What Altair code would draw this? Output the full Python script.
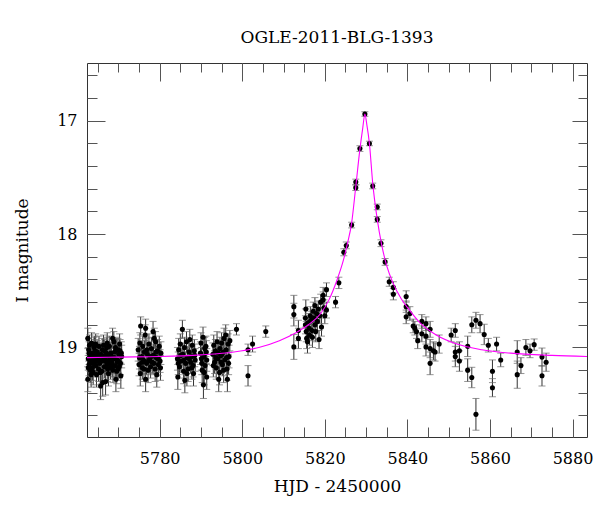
import altair as alt
import pandas as pd

TITLE = "OGLE-2011-BLG-1393"
X_TITLE = "HJD - 2450000"
Y_TITLE = "I magnitude"

x_major = [5780, 5800, 5820, 5840, 5860, 5880]
x_minor = [5765, 5770, 5775, 5780, 5785, 5790, 5795, 5800, 5805, 5810, 5815, 5820,
           5825, 5830, 5835, 5840, 5845, 5850, 5855, 5860, 5865, 5870, 5875, 5880]
y_major = [17, 18, 19]
y_minor = [16.6, 16.8, 17.0, 17.2, 17.4, 17.6, 17.8, 18.0, 18.2, 18.4, 18.6, 18.8,
           19.0, 19.2, 19.4, 19.6]
X_DOMAIN = [5762.4, 5883.5]
Y_DOMAIN = [16.49, 19.79]

# observations: (HJD-2450000, I mag, error)
base_a = [
    (5762.6, 18.92, 0.09), (5762.6, 19.28, 0.11), (5762.7, 19.10, 0.10), (5762.8, 19.02, 0.10),
    (5762.9, 19.15, 0.10), (5762.9, 19.05, 0.10), (5763.0, 18.98, 0.09), (5763.2, 19.20, 0.11),
    (5763.3, 19.07, 0.10), (5763.4, 19.12, 0.10), (5763.5, 18.96, 0.09), (5763.6, 19.09, 0.10),
    (5763.7, 19.18, 0.11), (5763.8, 19.05, 0.10), (5763.9, 19.22, 0.11), (5764.1, 19.00, 0.09),
    (5764.2, 19.13, 0.10), (5764.3, 19.09, 0.10), (5764.4, 19.03, 0.10), (5764.5, 18.97, 0.09),
    (5764.6, 19.16, 0.10), (5764.7, 19.24, 0.11), (5764.9, 19.04, 0.10), (5765.0, 19.11, 0.10),
    (5765.1, 19.07, 0.10), (5765.2, 19.19, 0.11), (5765.3, 18.99, 0.09), (5765.5, 19.14, 0.10),
    (5765.7, 19.34, 0.12), (5765.8, 19.06, 0.10), (5765.9, 19.12, 0.10), (5766.0, 19.21, 0.11),
    (5766.2, 19.31, 0.12), (5766.3, 19.08, 0.10), (5766.4, 18.98, 0.09), (5766.5, 19.10, 0.10),
    (5766.6, 19.17, 0.10), (5766.7, 19.03, 0.10), (5766.9, 19.30, 0.12), (5767.0, 19.12, 0.10),
    (5767.1, 19.05, 0.10), (5767.2, 19.00, 0.09), (5767.3, 19.15, 0.10), (5767.5, 19.07, 0.10),
    (5767.6, 19.23, 0.11), (5767.7, 19.14, 0.10), (5767.8, 18.99, 0.09), (5767.9, 19.10, 0.10),
    (5768.1, 19.18, 0.10), (5768.2, 19.05, 0.10), (5768.3, 19.08, 0.10), (5768.4, 19.13, 0.10),
    (5768.6, 18.92, 0.09), (5768.7, 19.20, 0.11), (5768.9, 18.95, 0.09), (5769.0, 19.09, 0.10),
    (5769.1, 19.04, 0.10), (5769.2, 19.16, 0.10), (5769.4, 19.28, 0.11), (5769.5, 19.02, 0.10),
    (5769.7, 19.11, 0.10), (5769.8, 19.13, 0.10), (5769.9, 19.19, 0.10), (5770.1, 19.06, 0.10),
    (5770.3, 18.97, 0.09), (5770.4, 19.03, 0.10), (5770.5, 19.14, 0.10), (5770.6, 19.25, 0.11),
    (5770.8, 19.08, 0.10), (5762.7, 19.18, 0.11), (5763.1, 19.11, 0.10), (5763.4, 19.24, 0.11),
    (5763.9, 19.14, 0.10), (5764.2, 18.99, 0.09), (5764.8, 19.12, 0.10), (5765.4, 19.08, 0.10),
    (5765.6, 19.22, 0.11), (5766.1, 19.02, 0.10), (5766.8, 19.12, 0.10), (5767.4, 19.19, 0.11),
    (5768.0, 19.06, 0.10), (5768.5, 19.16, 0.10), (5768.8, 19.10, 0.10), (5769.3, 19.00, 0.09),
    (5769.6, 19.21, 0.11), (5770.0, 19.12, 0.10), (5770.2, 19.17, 0.10), (5770.7, 19.05, 0.10),
    (5763.5, 19.13, 0.10), (5764.0, 19.07, 0.10), (5766.9, 19.08, 0.10), (5767.3, 18.96, 0.09),
    (5769.9, 19.02, 0.10),
]
base_b = [
    (5774.8, 19.02, 0.10), (5775.0, 19.15, 0.10), (5775.2, 18.96, 0.09), (5775.3, 19.23, 0.11),
    (5775.4, 18.81, 0.08), (5775.6, 19.08, 0.10), (5775.8, 19.18, 0.10), (5775.9, 18.99, 0.09),
    (5776.1, 19.11, 0.10), (5776.3, 19.04, 0.10), (5776.5, 18.89, 0.09), (5776.6, 18.83, 0.08),
    (5776.6, 19.28, 0.11), (5776.8, 19.14, 0.10), (5777.0, 19.06, 0.10), (5777.2, 19.20, 0.11),
    (5777.4, 18.97, 0.09), (5777.6, 19.10, 0.10), (5777.8, 19.17, 0.10), (5778.0, 19.01, 0.10),
    (5778.2, 19.13, 0.10), (5778.4, 18.86, 0.09), (5778.5, 19.07, 0.10), (5778.7, 18.92, 0.09),
    (5778.9, 19.19, 0.11), (5779.0, 18.95, 0.09), (5779.2, 19.09, 0.10), (5779.3, 19.24, 0.11),
    (5779.5, 19.03, 0.10), (5779.7, 19.15, 0.10), (5779.9, 18.99, 0.09), (5780.1, 19.12, 0.10),
    (5780.3, 19.05, 0.10), (5775.1, 19.09, 0.10), (5775.7, 19.13, 0.10), (5776.2, 19.19, 0.11),
    (5776.9, 19.02, 0.10), (5777.3, 19.12, 0.10), (5777.9, 19.08, 0.10), (5778.6, 19.14, 0.10),
    (5779.1, 19.04, 0.10), (5779.6, 19.10, 0.10), (5780.2, 19.18, 0.11),
]
base_c = [
    (5784.3, 19.10, 0.10), (5784.4, 19.26, 0.11), (5784.6, 19.02, 0.10), (5784.8, 19.17, 0.10),
    (5785.0, 18.97, 0.09), (5785.2, 19.12, 0.10), (5785.5, 18.84, 0.08), (5785.6, 19.06, 0.10),
    (5785.8, 19.21, 0.11), (5786.0, 19.00, 0.09), (5786.1, 19.29, 0.11), (5786.3, 19.14, 0.10),
    (5786.5, 18.95, 0.09), (5786.7, 19.09, 0.10), (5786.9, 19.19, 0.11), (5787.1, 19.04, 0.10),
    (5787.3, 18.93, 0.09), (5787.5, 19.13, 0.10), (5787.7, 19.08, 0.10), (5787.9, 18.98, 0.09),
    (5788.1, 19.16, 0.10), (5788.2, 19.23, 0.11), (5788.4, 19.03, 0.10), (5788.6, 19.11, 0.10),
    (5789.9, 19.05, 0.10), (5790.0, 18.96, 0.09), (5790.2, 19.14, 0.10), (5790.3, 19.20, 0.11),
    (5790.5, 18.91, 0.09), (5790.6, 19.33, 0.12), (5790.7, 19.08, 0.10), (5790.9, 19.01, 0.10),
    (5791.0, 19.16, 0.10), (5791.2, 18.99, 0.09), (5791.4, 19.26, 0.11), (5791.4, 19.11, 0.10),
    (5784.5, 19.14, 0.10), (5785.1, 19.07, 0.10), (5785.9, 19.11, 0.10), (5786.6, 19.23, 0.11),
    (5787.2, 19.10, 0.10), (5787.8, 19.18, 0.10), (5788.5, 19.07, 0.10), (5790.1, 19.10, 0.10),
    (5790.8, 19.22, 0.11), (5791.3, 19.04, 0.10),
]
base_d = [
    (5792.9, 19.06, 0.10), (5793.1, 18.98, 0.09), (5793.3, 19.13, 0.10), (5793.5, 19.03, 0.10),
    (5793.7, 19.18, 0.10), (5793.9, 18.95, 0.09), (5794.1, 19.10, 0.10), (5794.3, 19.28, 0.11),
    (5794.5, 19.22, 0.11), (5794.6, 19.01, 0.10), (5794.8, 19.07, 0.10), (5795.0, 18.96, 0.09),
    (5795.2, 19.15, 0.10), (5795.4, 19.04, 0.10), (5795.6, 18.92, 0.09), (5795.8, 19.11, 0.10),
    (5796.0, 18.89, 0.09), (5796.1, 19.02, 0.10), (5796.3, 19.19, 0.10), (5796.4, 19.28, 0.11),
    (5796.6, 18.97, 0.09), (5796.8, 19.08, 0.10), (5797.0, 18.94, 0.09),
    (5793.0, 19.16, 0.10), (5793.6, 19.09, 0.10), (5794.2, 19.05, 0.10), (5794.9, 19.13, 0.10),
    (5795.5, 19.20, 0.11), (5796.2, 19.09, 0.10), (5796.7, 19.14, 0.10), (5795.1, 19.06, 0.10),
    (5798.6, 18.84, 0.05), (5801.4, 19.02, 0.05), (5801.4, 19.25, 0.09), (5802.5, 18.97, 0.07),
    (5805.7, 18.86, 0.05),
]
rise = [
    (5812.5, 18.64, 0.10), (5812.5, 18.71, 0.10), (5812.5, 18.995, 0.11), (5813.6, 18.85, 0.09),
    (5813.6, 18.92, 0.09), (5815.4, 18.66, 0.08), (5815.3, 18.74, 0.08), (5815.3, 18.80, 0.08),
    (5815.5, 18.86, 0.09), (5815.6, 18.92, 0.09), (5815.8, 18.95, 0.10), (5816.0, 18.78, 0.08),
    (5816.2, 18.83, 0.09), (5816.3, 18.89, 0.09), (5816.5, 18.72, 0.08), (5816.7, 18.76, 0.08),
    (5816.9, 18.85, 0.09), (5817.0, 18.91, 0.09), (5817.2, 18.68, 0.08), (5817.4, 18.74, 0.08),
    (5817.6, 18.63, 0.07), (5817.6, 18.80, 0.08), (5817.8, 18.86, 0.09), (5818.0, 18.70, 0.08),
    (5818.2, 18.77, 0.08), (5818.4, 18.66, 0.07), (5818.6, 18.93, 0.08), (5818.8, 18.72, 0.07),
    (5819.0, 18.60, 0.07), (5819.2, 18.82, 0.08), (5819.6, 18.54, 0.07), (5819.6, 18.58, 0.07),
    (5819.8, 18.65, 0.07), (5820.0, 18.72, 0.07), (5820.4, 18.49, 0.06), (5820.4, 18.67, 0.07),
    (5822.6, 18.60, 0.05), (5823.4, 18.43, 0.05),
]
peak = [
    (5824.6, 18.16, 0.03), (5825.2, 18.10, 0.03), (5826.5, 17.92, 0.025), (5827.5, 17.54, 0.025),
    (5827.5, 17.59, 0.025), (5828.5, 17.245, 0.025), (5829.7, 16.94, 0.02), (5830.8, 17.20, 0.02),
    (5831.6, 17.575, 0.025), (5832.7, 17.76, 0.025), (5832.7, 17.87, 0.025), (5833.6, 18.08, 0.03),
    (5834.6, 18.245, 0.03),
]
decline = [
    (5835.6, 18.42, 0.04), (5836.6, 18.47, 0.05), (5836.6, 18.53, 0.05), (5839.7, 18.55, 0.05),
    (5839.7, 18.64, 0.05), (5840.6, 18.70, 0.06), (5839.7, 18.73, 0.06), (5841.4, 18.81, 0.06),
    (5841.8, 18.83, 0.06), (5842.2, 18.86, 0.06), (5842.5, 18.94, 0.07), (5843.5, 18.77, 0.06),
    (5843.5, 18.88, 0.07), (5844.5, 18.79, 0.06), (5844.5, 18.90, 0.07), (5844.5, 18.995, 0.08),
    (5845.5, 18.84, 0.07), (5845.5, 19.01, 0.08), (5845.5, 19.14, 0.10), (5846.3, 19.03, 0.08),
    (5846.7, 19.04, 0.08), (5847.7, 18.97, 0.08), (5850.6, 18.89, 0.06), (5851.6, 18.85, 0.06),
    (5851.6, 19.04, 0.08), (5851.6, 19.08, 0.09), (5852.6, 19.03, 0.08), (5852.6, 19.12, 0.09),
]
tail = [
    (5854.6, 18.99, 0.09), (5854.6, 19.20, 0.10), (5855.6, 19.265, 0.09), (5855.6, 18.80, 0.07),
    (5856.6, 18.76, 0.07), (5857.6, 18.79, 0.08), (5858.6, 18.885, 0.09), (5859.6, 18.98, 0.06),
    (5861.6, 18.97, 0.06), (5862.6, 19.11, 0.06), (5860.6, 19.21, 0.10), (5860.6, 19.355, 0.08),
    (5856.6, 19.59, 0.14), (5866.6, 19.04, 0.10), (5866.6, 19.24, 0.12), (5867.5, 19.16, 0.07),
    (5868.7, 19.00, 0.07), (5869.7, 19.03, 0.06), (5870.7, 18.975, 0.05), (5872.6, 19.085, 0.08),
    (5872.6, 19.25, 0.09), (5873.6, 19.13, 0.08),
]

# fitted model curve
model_t = [5762.4, 5770, 5780, 5790, 5798, 5804, 5809, 5813, 5816, 5819, 5821, 5823,
           5824.5, 5825.5, 5826.5, 5827.5, 5828.5, 5829.2, 5829.7, 5830.2, 5830.8, 5831.6,
           5832.7, 5833.8, 5835.0, 5836.5, 5838.5, 5840.5, 5843.0, 5847.0, 5852.0, 5858.0,
           5865.0, 5875.0, 5883.5]
model_m = [19.09, 19.085, 19.08, 19.065, 19.04, 19.00, 18.94, 18.87, 18.80, 18.70, 18.58, 18.40,
           18.23, 18.08, 17.90, 17.58, 17.25, 17.06, 16.94, 17.04, 17.20, 17.55,
           17.87, 18.10, 18.28, 18.43, 18.57, 18.67, 18.78, 18.89, 18.97, 19.02,
           19.05, 19.07, 19.08]

obs = pd.DataFrame(base_a + base_b + base_c + base_d + rise + peak + decline + tail,
                   columns=["t", "m", "e"])
model = pd.DataFrame({"t": model_t, "m": model_m})

FONT = "DejaVu Serif"
TICK = "#555555"
ERR = "#333333"
CAP = "#666666"

xs = alt.Scale(domain=X_DOMAIN, nice=False, zero=False)
ys = alt.Scale(domain=Y_DOMAIN, nice=False, zero=False, reverse=True)

x_axis_main = alt.Axis(
    orient="bottom", values=x_major, format="d", ticks=False, domain=False, grid=False,
    labelFont=FONT, labelFontSize=16, labelColor="black", labelPadding=26,
    labelBaseline="alphabetic", labelFlush=False, labelOverlap=False,
    title=X_TITLE, titleFont=FONT, titleFontSize=17, titleFontWeight="normal",
    titleColor="black", titleX=250, titleY=54, titleBaseline="alphabetic", titleAlign="center",
)
y_axis_main = alt.Axis(
    orient="left", values=y_major, format="d", ticks=False, domain=False, grid=False,
    labelFont=FONT, labelFontSize=16, labelColor="black", labelPadding=10,
    labelFlush=False, labelOverlap=False,
    title=Y_TITLE, titleFont=FONT, titleFontSize=17, titleFontWeight="normal",
    titleColor="black", titleX=-60, titleY=187, titleAngle=270,
    titleBaseline="alphabetic", titleAlign="center",
)


def tick_axis(orient, vals, length):
    return alt.Axis(orient=orient, values=vals, ticks=True,
                    tickSize=alt.ExprRef(expr=f"-{length}"), tickColor=TICK, tickWidth=1,
                    labels=False, domain=False, grid=False, title=None)


X = alt.X("t:Q", scale=xs, axis=x_axis_main)
base = alt.Chart(obs).transform_calculate(lo="datum.m - datum.e", hi="datum.m + datum.e")

bars = base.mark_rule(color=ERR, strokeWidth=1).encode(
    x=X, y=alt.Y("lo:Q", scale=ys, axis=y_axis_main), y2="hi:Q")
cap_lo = base.mark_tick(orient="horizontal", size=7, thickness=1, color=CAP).encode(
    x=X, y=alt.Y("lo:Q", scale=ys, axis=y_axis_main))
cap_hi = base.mark_tick(orient="horizontal", size=7, thickness=1, color=CAP).encode(
    x=X, y=alt.Y("hi:Q", scale=ys, axis=y_axis_main))
dots = base.mark_circle(size=26, color="black", opacity=1).encode(
    x=X, y=alt.Y("m:Q", scale=ys, axis=y_axis_main))
line = alt.Chart(model).mark_line(color="#ff00ff", strokeWidth=1.1, interpolate="monotone",
                                  clip=True).encode(
    x=X, y=alt.Y("m:Q", scale=ys, axis=y_axis_main))

data_layer = alt.layer(bars, cap_lo, cap_hi, dots, line)


def tick_layer(xo, xv, xl, yo, yv, yl):
    return alt.Chart(model).mark_point(opacity=0).encode(
        x=alt.X("t:Q", scale=xs, axis=tick_axis(xo, xv, xl)),
        y=alt.Y("m:Q", scale=ys, axis=tick_axis(yo, yv, yl)),
    )


chart = alt.layer(
    data_layer,
    tick_layer("bottom", x_minor, 10, "left", y_minor, 10),
    tick_layer("bottom", x_major, 18, "left", y_major, 18),
    tick_layer("top", x_minor, 9, "right", y_minor, 9),
    tick_layer("top", x_major, 18, "right", y_major, 15),
).resolve_axis(x="independent", y="independent").properties(
    width=500,
    height=374,
    title=alt.TitleParams(text=TITLE, font=FONT, fontSize=17, fontWeight="normal",
                          color="black", anchor="middle", frame="group",
                          baseline="alphabetic", offset=3),
    autosize=alt.AutoSizeParams(type="none"),
    padding={"left": 87, "top": 63, "right": 13, "bottom": 75},
).configure_view(stroke="#333333", strokeWidth=1)

chart.save("out.html", embed_options={"renderer": "svg", "actions": False})
